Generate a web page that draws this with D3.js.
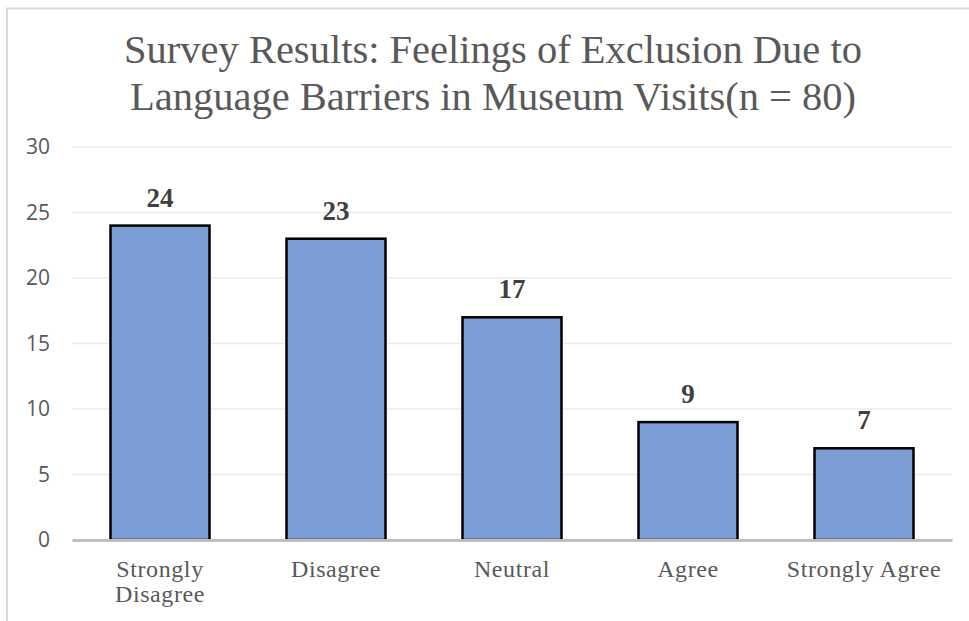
<!DOCTYPE html>
<html>
<head>
<meta charset="UTF-8">
<title>Survey Results</title>
<script src="https://cdn.jsdelivr.net/npm/d3@7"></script>
<style>
  body { margin: 0; background: #ffffff; }
  svg { display: block; }
</style>
</head>
<body>
<script>
  // answer categories (x axis), split into lines for the tick labels
  const categories = ['Strongly Disagree', 'Disagree', 'Neutral', 'Agree', 'Strongly Agree'];
  const categoryLines = [['Strongly', 'Disagree'], ['Disagree'], ['Neutral'], ['Agree'], ['Strongly Agree']];
  const counts = [24, 23, 17, 9, 7];
  const yTicks = [0, 5, 10, 15, 20, 25, 30];
  const titleLines = ['Survey Results: Feelings of Exclusion Due to',
    'Language Barriers in Museum Visits(n = 80)'];

  const w = 969;
  const h = 621;
  const plotLeft = 72, plotRight = 952, plotTop = 147, plotBottom = 540;

  const svg = d3.select('body').append('svg')
    .attr('width', w)
    .attr('height', h);

  // outer chart frame (only top and left edges are visible)
  svg.append('path')
    .attr('d', 'M7,' + h + ' L7,8.5 L' + w + ',8.5')
    .attr('fill', 'none')
    .attr('stroke', '#d9d9d9')
    .attr('stroke-width', 2);

  const x = d3.scaleBand()
    .domain(categories)
    .range([plotLeft, plotRight])
    .paddingInner(0.4375)
    .paddingOuter(0.21875);

  const y = d3.scaleLinear()
    .domain([0, 30])
    .range([plotBottom, plotTop]);

  // gridlines
  svg.append('g')
    .selectAll('line')
    .data(yTicks.filter(d => d > 0))
    .enter()
    .append('line')
    .attr('x1', plotLeft)
    .attr('x2', plotRight)
    .attr('y1', d => y(d))
    .attr('y2', d => y(d))
    .attr('stroke', '#ebebeb')
    .attr('stroke-width', 1.5);

  // y axis labels
  const yAxis = d3.axisLeft(y).tickValues(yTicks).tickSize(0).tickPadding(0);
  const gy = svg.append('g')
    .attr('transform', 'translate(50,0)')
    .call(yAxis);
  gy.select('.domain').remove();
  gy.selectAll('text')
    .attr('font-family', '"Open Sans", "Noto Sans", sans-serif')
    .attr('font-size', 21)
    .attr('fill', '#595959');

  // bars
  svg.append('g')
    .selectAll('rect')
    .data(counts)
    .enter()
    .append('rect')
    .attr('x', (d, i) => x(categories[i]))
    .attr('y', d => y(d))
    .attr('width', x.bandwidth())
    .attr('height', d => y(0) - y(d))
    .attr('fill', '#7a9dd6')
    .attr('stroke', '#000000')
    .attr('stroke-width', 2.5);

  // value labels
  svg.append('g')
    .selectAll('text')
    .data(counts)
    .enter()
    .append('text')
    .attr('x', (d, i) => x(categories[i]) + x.bandwidth() / 2)
    .attr('y', d => y(d) - 19)
    .attr('text-anchor', 'middle')
    .attr('font-family', '"Liberation Serif", "Times New Roman", serif')
    .attr('font-weight', 'bold')
    .attr('font-size', 27)
    .attr('fill', '#404040')
    .text(d => d);

  // x axis baseline
  const xAxis = d3.axisBottom(x).tickSize(0).tickFormat('');
  const gx = svg.append('g')
    .attr('transform', 'translate(0,' + plotBottom + ')')
    .call(xAxis);
  gx.select('.domain')
    .attr('stroke', '#bfbfbf')
    .attr('stroke-width', 3);

  // category labels, possibly on two lines
  const catText = svg.append('g')
    .selectAll('text')
    .data(categories)
    .enter()
    .append('text')
    .attr('x', d => x(d) + x.bandwidth() / 2)
    .attr('y', 577)
    .attr('text-anchor', 'middle')
    .attr('font-family', '"Liberation Serif", "Times New Roman", serif')
    .attr('font-size', 24)
    .attr('letter-spacing', 0.6)
    .attr('fill', '#595959');

  catText.selectAll('tspan')
    .data((d, i) => categoryLines[i])
    .enter()
    .append('tspan')
    .attr('x', function () { return d3.select(this.parentNode).attr('x'); })
    .attr('dy', (d, i) => i === 0 ? 0 : 25)
    .text(d => d);

  // title
  svg.append('g')
    .selectAll('text')
    .data(titleLines)
    .enter()
    .append('text')
    .attr('x', 493)
    .attr('y', (d, i) => 63 + i * 47)
    .attr('text-anchor', 'middle')
    .attr('font-family', '"Liberation Serif", "Times New Roman", serif')
    .attr('font-size', 40.5)
    .attr('fill', '#595959')
    .text(d => d);
</script>
</body>
</html>
